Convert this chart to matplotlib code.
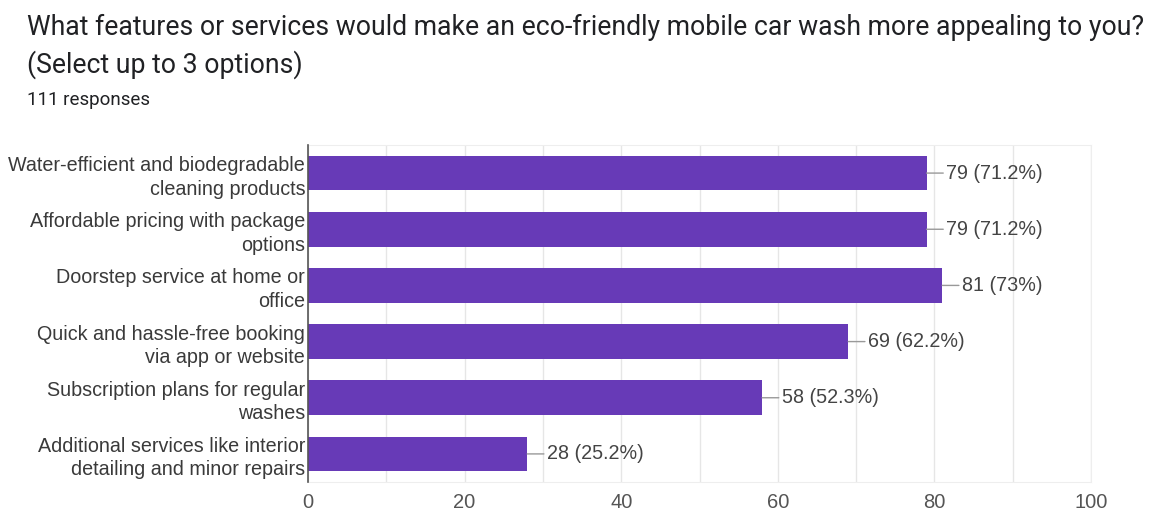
import matplotlib.pyplot as plt
from matplotlib.ticker import MultipleLocator

categories = [
    "Water-efficient and biodegradable\ncleaning products",
    "Affordable pricing with package\noptions",
    "Doorstep service at home or\noffice",
    "Quick and hassle-free booking\nvia app or website",
    "Subscription plans for regular\nwashes",
    "Additional services like interior\ndetailing and minor repairs",
]
counts = [79, 79, 81, 69, 58, 28]
percent_labels = ["71.2%", "71.2%", "73%", "62.2%", "52.3%", "25.2%"]
x_ticks = [0, 20, 40, 60, 80, 100]

W, H = 1152, 514
fig = plt.figure(figsize=(W / 100, H / 100), dpi=100)
fig.patch.set_facecolor("white")

# plot area in pixel coordinates
left, right, top, bottom = 308, 1091, 145, 482
ax = fig.add_axes([left / W, 1 - bottom / H, (right - left) / W, (bottom - top) / H])

label_font = ["Liberation Sans", "DejaVu Sans"]
bar_color = "#673ab7"
y = list(range(len(categories)))
ax.barh(y, counts, height=0.62, color=bar_color, zorder=3)
ax.set_ylim(len(categories) - 0.5, -0.5)
ax.set_xlim(0, 100)

ax.set_yticks(y)
ax.set_yticklabels(categories, fontsize=14.2, color="#3a3a3a",
                   family=label_font, linespacing=1.3)
ax.set_xticks(x_ticks)
ax.set_xticklabels([str(t) for t in x_ticks], fontsize=14.5, color="#555555",
                   family=label_font)
ax.xaxis.set_minor_locator(MultipleLocator(10))
ax.tick_params(axis="both", which="both", length=0)
ax.tick_params(axis="x", pad=8)
ax.tick_params(axis="y", pad=2)

ax.grid(axis="x", which="both", color="#e6e6e6", linewidth=1, zorder=0)
for side in ("top", "right", "bottom"):
    ax.spines[side].set_color("#eeeeee")
ax.spines["left"].set_color("#555555")
ax.spines["left"].set_linewidth(1.2)
ax.spines["left"].set_zorder(4)

# value labels with short leader lines
for yi, c, p in zip(y, counts, percent_labels):
    ax.annotate(f"{c} ({p})", xy=(c, yi), xytext=(14, 0), textcoords="offset points",
                ha="left", va="center", fontsize=14.2, color="#444444",
                family=label_font,
                arrowprops=dict(arrowstyle="-", color="#999999", lw=1,
                                shrinkA=0, shrinkB=0))

fig.text(27 / W, 1 - 27 / H,
         "What features or services would make an eco-friendly mobile car wash more appealing to you?",
         fontsize=19.2, color="#202124", family=["Roboto", "DejaVu Sans"], va="center")
fig.text(27 / W, 1 - 65 / H, "(Select up to 3 options)",
         fontsize=19.2, color="#202124", family=["Roboto", "DejaVu Sans"], va="center")
fig.text(27 / W, 1 - 100 / H, "111 responses",
         fontsize=13.5, color="#202124", family=["Roboto", "DejaVu Sans"], va="center")

fig.savefig("out.png", dpi=100)
